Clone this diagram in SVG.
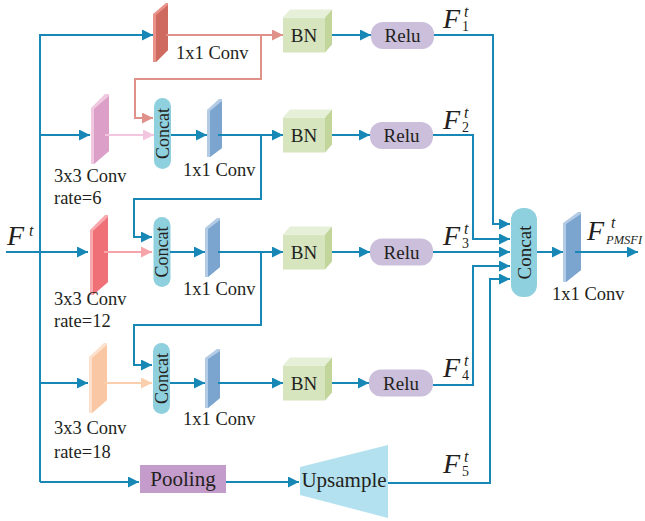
<svg xmlns="http://www.w3.org/2000/svg" width="645" height="521" viewBox="0 0 645 521">
<defs>
<style>
.t{font-family:"Liberation Serif","Times New Roman",serif;fill:#231f20}
.lbl{font-size:18.5px}
.big{font-size:21px}
.fi{font-family:"Liberation Serif","Times New Roman",serif;font-style:italic;fill:#231f20}
.sub{font-family:"Liberation Serif","Times New Roman",serif;font-style:normal;fill:#231f20;font-size:14px}
.ln{fill:none;stroke:#1787b5;stroke-width:2}
.blue{marker-end:url(#ab)}
.bn-f{fill:#d6e5bd}.bn-t{fill:#e6efd8}.bn-s{fill:#c2d69c}
.relu{fill:#cbbfdc}
.cc{fill:#8fd0de}
.bl-l{fill:#b4cbe6}.bl-d{fill:#7ba4cf}
</style>
<marker id="ab" viewBox="0 0 10 10" refX="10" refY="5" markerWidth="11" markerHeight="11" markerUnits="userSpaceOnUse" orient="auto"><path d="M0,0L10,5L0,10z" fill="#1787b5"/></marker>
<marker id="as" viewBox="0 0 10 10" refX="10" refY="5" markerWidth="11" markerHeight="11" markerUnits="userSpaceOnUse" orient="auto"><path d="M0,0L10,5L0,10z" fill="#e0918a"/></marker>
<marker id="ap" viewBox="0 0 10 10" refX="10" refY="5" markerWidth="11" markerHeight="11" markerUnits="userSpaceOnUse" orient="auto"><path d="M0,0L10,5L0,10z" fill="#f2c6df"/></marker>
<marker id="ar" viewBox="0 0 10 10" refX="10" refY="5" markerWidth="11" markerHeight="11" markerUnits="userSpaceOnUse" orient="auto"><path d="M0,0L10,5L0,10z" fill="#f6a4a9"/></marker>
<marker id="ao" viewBox="0 0 10 10" refX="10" refY="5" markerWidth="11" markerHeight="11" markerUnits="userSpaceOnUse" orient="auto"><path d="M0,0L10,5L0,10z" fill="#fbcfae"/></marker>
</defs>
<rect width="645" height="521" fill="#ffffff"/>

<g id="input">
<text class="fi" x="7" y="245" font-size="28">F</text>
<text class="fi" x="29" y="236" font-size="16">t</text>
</g>

<g id="conv1x1_r1">
<polygon points="153,14 166,3 168,3 168,50 156,62 153,62" fill="#e8928a"/>
<polygon points="156,15 168,5 168,50 156,62" fill="#cf6a61"/>
<text class="t lbl" x="176" y="59">1x1 Conv</text>
</g>
<g id="bn1">
<rect class="bn-f" x="283" y="17.5" width="42" height="35"/>
<polygon class="bn-t" points="283,17.5 290,9.5 332,9.5 325,17.5"/>
<polygon class="bn-s" points="325,17.5 332,9.5 332,44.5 325,52.5"/>
<text class="t" x="304" y="42" font-size="19" text-anchor="middle">BN</text>
</g>
<g id="relu1">
<rect class="relu" x="371" y="22" width="63" height="27" rx="12"/>
<text class="t" x="402.5" y="42" font-size="19" text-anchor="middle">Relu</text>
</g>
<g id="f1">
<text class="fi" x="443" y="28" font-size="28">F</text>
<text class="fi" x="464" y="17" font-size="16">t</text>
<text class="sub" x="462" y="31">1</text>
</g>

<g id="conv3x3_r6">
<polygon points="91,108 105,94 109,94 109,151 94,164 91,164" fill="#f0c9e0"/>
<polygon points="94,109 109,96 109,151 94,164" fill="#dc9fc8"/>
<text class="t lbl" x="54" y="182">3x3 Conv</text>
<text class="t lbl" x="54" y="204">rate=6</text>
</g>
<g id="concat2">
<rect class="cc" x="154" y="98" width="17" height="71" rx="8.5"/>
<text class="t" transform="translate(168.5,133.5) rotate(-90)" font-size="18" text-anchor="middle">Concat</text>
</g>
<g id="conv1x1_r2">
<polygon points="207,110 219,99 222,99 222,148 210,157 207,157" class="bl-l"/>
<polygon points="210,111 222,101 222,148 210,157" class="bl-d"/>
<text class="t lbl" x="183" y="176">1x1 Conv</text>
</g>
<g id="bn2">
<rect class="bn-f" x="283" y="117.5" width="42" height="35"/>
<polygon class="bn-t" points="283,117.5 290,109.5 332,109.5 325,117.5"/>
<polygon class="bn-s" points="325,117.5 332,109.5 332,144.5 325,152.5"/>
<text class="t" x="304" y="142" font-size="19" text-anchor="middle">BN</text>
</g>
<g id="relu2">
<rect class="relu" x="370" y="122" width="63" height="27" rx="12"/>
<text class="t" x="401.5" y="142" font-size="19" text-anchor="middle">Relu</text>
</g>
<g id="f2">
<text class="fi" x="443" y="129" font-size="28">F</text>
<text class="fi" x="464" y="118" font-size="16">t</text>
<text class="sub" x="462" y="132">2</text>
</g>

<g id="conv3x3_r12">
<polygon points="90,230 105,215 108,215 108,282 93,295 90,295" fill="#f8a9ae"/>
<polygon points="93,231 108,217 108,282 93,295" fill="#f07077"/>
<text class="t lbl" x="54" y="305">3x3 Conv</text>
<text class="t lbl" x="54" y="327">rate=12</text>
</g>
<g id="concat3">
<rect class="cc" x="153.5" y="217" width="17" height="70" rx="8.5"/>
<text class="t" transform="translate(168,252) rotate(-90)" font-size="18" text-anchor="middle">Concat</text>
</g>
<g id="conv1x1_r3">
<polygon points="205,228 217,218 220,218 220,267 208,277 205,277" class="bl-l"/>
<polygon points="208,229 220,220 220,267 208,277" class="bl-d"/>
<text class="t lbl" x="183" y="295">1x1 Conv</text>
</g>
<g id="bn3">
<rect class="bn-f" x="283" y="234.5" width="42" height="35"/>
<polygon class="bn-t" points="283,234.5 290,226.5 332,226.5 325,234.5"/>
<polygon class="bn-s" points="325,234.5 332,226.5 332,261.5 325,269.5"/>
<text class="t" x="304" y="259" font-size="19" text-anchor="middle">BN</text>
</g>
<g id="relu3">
<rect class="relu" x="370" y="238.5" width="63" height="27" rx="12"/>
<text class="t" x="401.5" y="258.5" font-size="19" text-anchor="middle">Relu</text>
</g>
<g id="f3">
<text class="fi" x="443" y="245" font-size="28">F</text>
<text class="fi" x="464" y="234" font-size="16">t</text>
<text class="sub" x="462" y="248">3</text>
</g>

<g id="conv3x3_r18">
<polygon points="89,357 104,343 107,343 107,400 92,413 89,413" fill="#fde1cc"/>
<polygon points="92,358 107,345 107,400 92,413" fill="#f9c7a3"/>
<text class="t lbl" x="54" y="434">3x3 Conv</text>
<text class="t lbl" x="54" y="458">rate=18</text>
</g>
<g id="concat4">
<rect class="cc" x="153" y="343" width="17" height="71" rx="8.5"/>
<text class="t" transform="translate(167.5,378.5) rotate(-90)" font-size="18" text-anchor="middle">Concat</text>
</g>
<g id="conv1x1_r4">
<polygon points="205,358 217,349 220,349 220,398 208,408 205,408" class="bl-l"/>
<polygon points="208,359 220,351 220,398 208,408" class="bl-d"/>
<text class="t lbl" x="183" y="425">1x1 Conv</text>
</g>
<g id="bn4">
<rect class="bn-f" x="283" y="365.5" width="42" height="35"/>
<polygon class="bn-t" points="283,365.5 290,357.5 332,357.5 325,365.5"/>
<polygon class="bn-s" points="325,365.5 332,357.5 332,392.5 325,400.5"/>
<text class="t" x="304" y="390" font-size="19" text-anchor="middle">BN</text>
</g>
<g id="relu4">
<rect class="relu" x="369" y="369.5" width="64" height="27" rx="12"/>
<text class="t" x="401" y="389.5" font-size="19" text-anchor="middle">Relu</text>
</g>
<g id="f4">
<text class="fi" x="443" y="377" font-size="28">F</text>
<text class="fi" x="464" y="366" font-size="16">t</text>
<text class="sub" x="462" y="380">4</text>
</g>

<g id="pooling">
<rect x="140" y="465" width="86" height="28" fill="#c39ccb"/>
<text class="t big" x="183" y="486" text-anchor="middle">Pooling</text>
</g>
<g id="upsample">
<polygon points="300,467 388,445 388,518 300,495" fill="#b3e1ef"/>
<text class="t big" x="344" y="487" text-anchor="middle">Upsample</text>
</g>
<g id="f5">
<text class="fi" x="443" y="473" font-size="28">F</text>
<text class="fi" x="464" y="462" font-size="16">t</text>
<text class="sub" x="462" y="476">5</text>
</g>

<g id="concat_final">
<rect class="cc" x="511" y="208" width="26" height="89" rx="12"/>
<text class="t" transform="translate(531,252.5) rotate(-90)" font-size="19" text-anchor="middle">Concat</text>
</g>
<g id="conv1x1_final">
<polygon points="563,223 578,212 581,212 581,270 566,282 563,282" class="bl-l"/>
<polygon points="566,224 581,214 581,270 566,282" class="bl-d"/>
<text class="t lbl" x="552" y="300">1x1 Conv</text>
</g>
<g id="f_out">
<text class="fi" x="587" y="240" font-size="28">F</text>
<text class="fi" x="611" y="228" font-size="16">t</text>
<text class="fi" x="606" y="244" font-size="12.5">PMSFI</text>
</g>

<g id="connectors">
<path class="ln blue" d="M6,252H88"/>
<path class="ln blue" d="M40,482V35H153"/>
<path class="ln blue" d="M40,135H90"/>
<path class="ln blue" d="M40,383H88"/>
<path class="ln blue" d="M40,482H139"/>

<path d="M166,35H283" fill="none" stroke="#e0918a" stroke-width="2" marker-end="url(#as)"/>
<path d="M261,35V79H135V118H153" fill="none" stroke="#e0918a" stroke-width="2" marker-end="url(#as)"/>
<path d="M105,135H154" fill="none" stroke="#f2c6df" stroke-width="2" marker-end="url(#ap)"/>
<path d="M104,252H152" fill="none" stroke="#f6a4a9" stroke-width="2" marker-end="url(#ar)"/>
<path d="M104,383H152" fill="none" stroke="#fbcfae" stroke-width="2" marker-end="url(#ao)"/>

<path class="ln blue" d="M171,135H207"/>
<path class="ln blue" d="M170,252H205"/>
<path class="ln blue" d="M170,383H205"/>
<path class="ln blue" d="M218,135H283"/>
<path class="ln blue" d="M218,252H283"/>
<path class="ln blue" d="M218,383H283"/>
<path class="ln blue" d="M261,135V199H134V237H152"/>
<path class="ln blue" d="M261,252V325H134V365H152"/>

<path class="ln blue" d="M332,35H371"/>
<path class="ln blue" d="M332,135H370"/>
<path class="ln blue" d="M332,252H370"/>
<path class="ln blue" d="M332,383H369"/>

<path class="ln blue" d="M434,35H493V224H510"/>
<path class="ln blue" d="M433,135H473V239H510"/>
<path class="ln blue" d="M433,252H510"/>
<path class="ln blue" d="M433,385H473V266H510"/>
<path class="ln blue" d="M388,483H490V279H510"/>

<path class="ln blue" d="M226,482H299"/>
<path class="ln blue" d="M537,252H563"/>
<path class="ln blue" d="M575,252H638"/>
</g>
</svg>
